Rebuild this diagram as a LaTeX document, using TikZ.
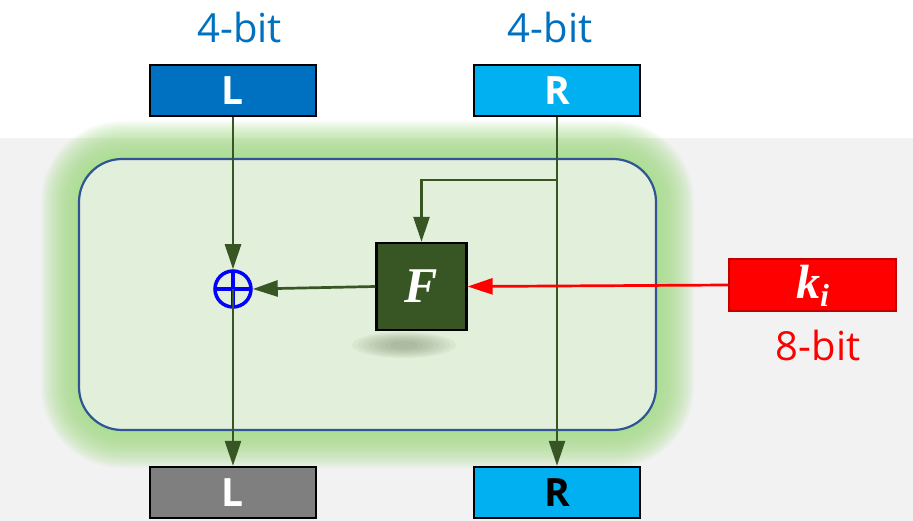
\documentclass[tikz,border=0pt]{standalone}
\usepackage{fontspec}
\setmainfont{Open Sans}
\newfontfamily\serifbi{Liberation Serif}[BoldItalicFont=* Bold Italic]
\usetikzlibrary{arrows.meta}
\definecolor{Lblue}{HTML}{0070C0}
\definecolor{Rblue}{HTML}{00B0F0}
\definecolor{bggray}{HTML}{F2F2F2}
\definecolor{gline}{HTML}{375623}
\definecolor{Ffill}{HTML}{375623}
\definecolor{boxfill}{HTML}{E2EFDA}
\definecolor{boxdraw}{HTML}{2F5597}
\definecolor{glowc}{RGB}{165,222,135}
\definecolor{keyred}{HTML}{FF0000}
\definecolor{keydraw}{HTML}{C00000}
\definecolor{shadowc}{HTML}{6E7F60}
\definecolor{grayfill}{HTML}{7F7F7F}
\tikzset{
  halfbox/.style={draw=black, line width=2.4pt, minimum width=166pt, minimum height=51pt,
    inner sep=0pt, text height=28pt, text depth=0pt, font=\fontsize{39}{40}\selectfont\bfseries},
  bitlabel/.style={anchor=base, inner sep=0pt, font=\fontsize{40}{44}\selectfont},
  conn/.style={draw=gline, line width=2.7pt, -{Triangle[length=25pt,width=16pt]}},
  keyconn/.style={draw=keyred, line width=2.7pt, -{Triangle[length=25pt,width=16pt]}},
}
\begin{document}
\begin{tikzpicture}[x=1pt,y=-1pt]
\useasboundingbox (0,0) rectangle (913,521);
% backgrounds
\fill[white] (0,0) rectangle (913,138);
\fill[bggray] (0,138) rectangle (913,521);
% glow
\foreach \d in {38,36.5,...,1.5}{
  \fill[glowc, opacity=0.065, rounded corners={43pt+\d pt}] (79-\d,159-\d) rectangle (656+\d,430+\d);
}
\draw[fill=boxfill, draw=boxdraw, line width=2.2pt, rounded corners=43pt] (79,159) rectangle (656,430);
% shadow of F
\foreach \s in {0,...,7}{
  \fill[shadowc, opacity=0.07] (404,345) ellipse ({52-\s*5.5} and {13-\s*1.3});
}
% labels
\node[bitlabel, text=Lblue] (lbl1) at (239.5,43) {4-bit};
\node[bitlabel, text=Lblue] (lbl2) at (550,43) {4-bit};
\node[bitlabel, text=keyred] (lbl3) at (818,360) {8-bit};
% boxes
\node[halfbox, fill=Lblue, text=white] (Lt) at (233,90.5) {L};
\node[halfbox, fill=Rblue, text=white] (Rt) at (557,90.5) {R};
\node[halfbox, fill=grayfill, text=white] (Lb) at (233,492.5) {L};
\node[halfbox, fill=Rblue, text=black] (Rb) at (557,492.5) {R};
\node[draw=black, line width=2.4pt, fill=Ffill, text=white, minimum width=90pt, minimum height=87pt,
  inner sep=0pt, text height=33pt, text depth=0pt,
  font=\fontsize{50}{52}\selectfont\serifbi\bfseries\itshape] (F) at (421.5,286.5) {F};
\node[draw=keydraw, line width=2.4pt, fill=keyred, text=white, minimum width=167pt, minimum height=52pt,
  inner sep=0pt, text height=28pt, text depth=0pt] (ki) at (812.5,285)
  {\fontsize{48}{48}\selectfont\serifbi\bfseries\itshape k\raisebox{-8pt}{\fontsize{32}{32}\selectfont i}};
\node[circle, draw=blue, line width=3.5pt, minimum size=36pt, inner sep=0pt,
  path picture={\draw[blue, line width=3.5pt] (path picture bounding box.north) -- (path picture bounding box.south)
   (path picture bounding box.west) -- (path picture bounding box.east);}] (xor) at (233,289) {};
\coordinate (br) at (557,180);
% connectors
\draw[conn] (Lt.south) -- (xor.north);
\draw[draw=gline, line width=2.7pt] (xor.center) -- (xor.south);
\draw[conn] (xor.south) -- (Lb.north);
\draw[conn] (F.west) -- (xor.east);
\draw[conn] (Rt.south) -- (Rb.north);
\draw[conn] (br) -| (F.north);
\draw[keyconn] (ki.west) -- (F.east);
\end{tikzpicture}
\end{document}
